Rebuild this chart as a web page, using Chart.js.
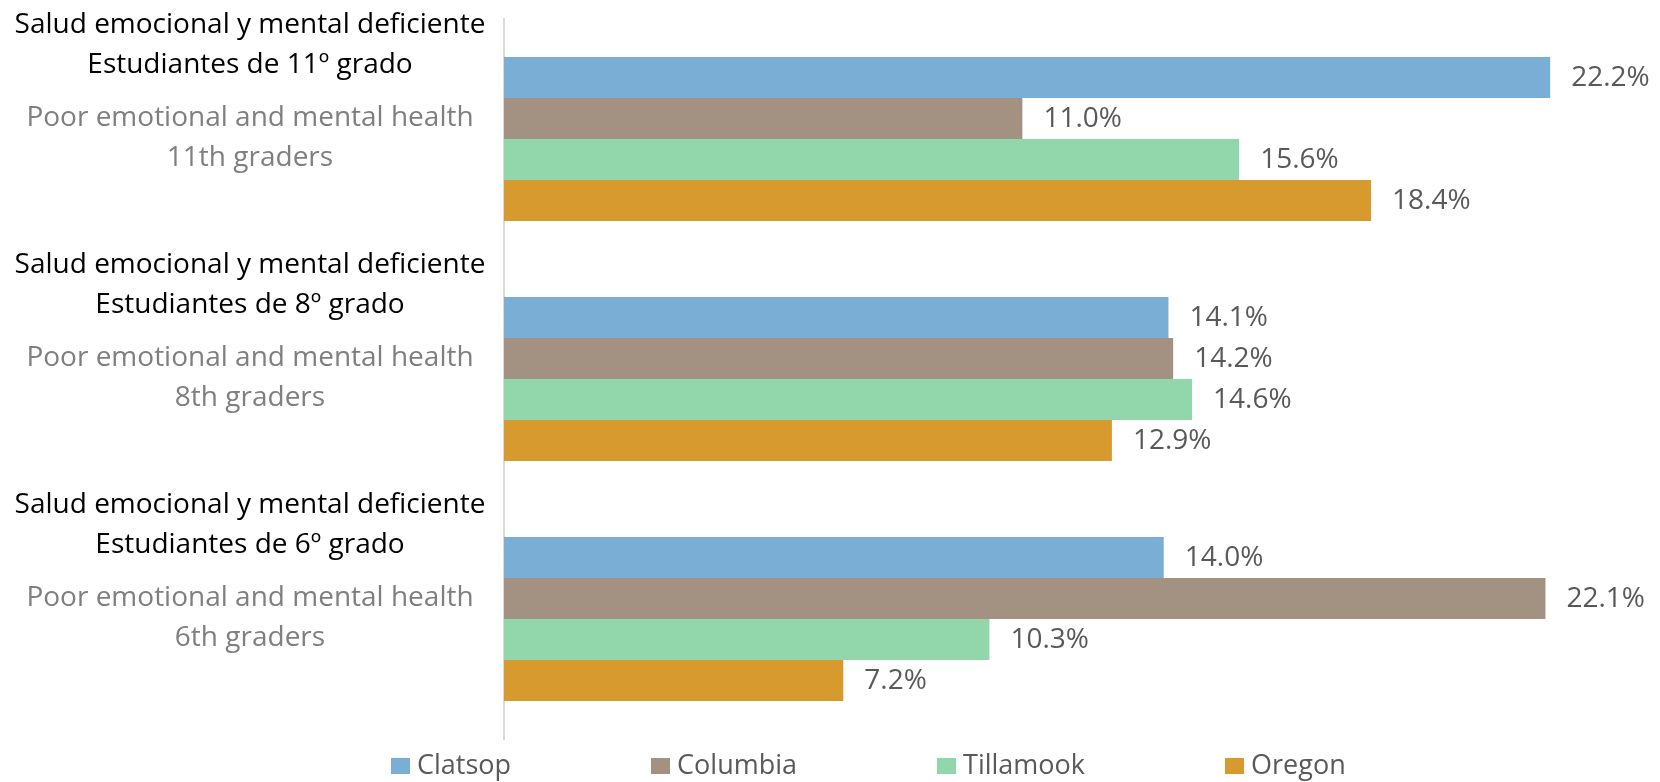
<!DOCTYPE html>
<html>
<head>
<meta charset="utf-8">
<title>Salud emocional y mental deficiente</title>
<script src="https://cdn.jsdelivr.net/npm/chart.js@4/dist/chart.umd.min.js"></script>
<style>
  html, body { margin: 0; padding: 0; background: #ffffff; }
  #wrap { position: relative; width: 1660px; height: 782px; overflow: hidden; }
  #legend {
    position: absolute; left: 391px; top: 750px;
    display: flex; gap: 140px;
    font-family: "Open Sans", sans-serif; font-size: 27px; line-height: 27px;
    color: #595959;
  }
  #legend .item { display: flex; align-items: center; white-space: nowrap; }
  #legend .box { width: 19px; height: 16px; margin-right: 7px; position: relative; top: 2px; }
</style>
</head>
<body>
<div id="wrap">
  <canvas id="chart" width="1660" height="782"></canvas>
  <div id="legend"></div>
</div>
<script>
// each category label: two Spanish lines, then two English lines
const categories = [
  ["Salud emocional y mental deficiente", "Estudiantes de 11º grado", "Poor emotional and mental health", "11th graders"],
  ["Salud emocional y mental deficiente", "Estudiantes de 8º grado", "Poor emotional and mental health", "8th graders"],
  ["Salud emocional y mental deficiente", "Estudiantes de 6º grado", "Poor emotional and mental health", "6th graders"]
];
const seriesNames = ["Clatsop", "Columbia", "Tillamook", "Oregon"];
const clatsop = [22.2, 14.1, 14.0];
const columbia = [11.0, 14.2, 22.1];
const tillamook = [15.6, 14.6, 10.3];
const oregon = [18.4, 12.9, 7.2];
const colors = ["#7aaed4", "#a39281", "#92d6ac", "#d69a2e"];

// draws the two-colour category text to the left of the axis
const categoryLabels = {
  id: "categoryLabels",
  afterDraw(chart) {
    const y = chart.scales.y;
    const ctx = chart.ctx;
    const offsets = [-106, -66, -13, 27];
    const cx = (y.left + y.right) / 2 - 2;
    ctx.save();
    ctx.font = '28px "Open Sans"';
    ctx.textAlign = "center";
    ctx.textBaseline = "alphabetic";
    chart.data.labels.forEach((lines, i) => {
      const mid = y.getPixelForValue(i);
      lines.forEach((text, j) => {
        ctx.fillStyle = j < 2 ? "#000000" : "#7f7f7f";
        ctx.fillText(text, cx, mid + offsets[j]);
      });
    });
    ctx.restore();
  }
};

// percentage next to the end of every bar
const valueLabels = {
  id: "valueLabels",
  afterDatasetsDraw(chart) {
    const ctx = chart.ctx;
    ctx.save();
    ctx.font = '28px "Open Sans"';
    ctx.fillStyle = "#595959";
    ctx.textAlign = "left";
    ctx.textBaseline = "middle";
    chart.data.datasets.forEach((ds, di) => {
      chart.getDatasetMeta(di).data.forEach((bar, i) => {
        ctx.fillText(ds.data[i].toFixed(1) + "%", bar.x + 21, bar.y + 1);
      });
    });
    ctx.restore();
  }
};

const seriesData = [clatsop, columbia, tillamook, oregon];

const chart = new Chart(document.getElementById("chart").getContext("2d"), {
  type: "bar",
  data: {
    labels: categories,
    datasets: seriesNames.map((name, i) => ({
      label: name,
      data: seriesData[i],
      backgroundColor: colors[i],
      borderWidth: 0,
      categoryPercentage: 0.683,
      barPercentage: 1
    }))
  },
  options: {
    indexAxis: "y",
    responsive: false,
    animation: false,
    layout: { padding: { top: 19, right: 25, bottom: 43, left: 0 } },
    plugins: {
      legend: { display: false },
      tooltip: { enabled: false }
    },
    scales: {
      x: { display: false, min: 0, max: 24 },
      y: {
        grid: { display: false },
        border: { display: true, color: "#d9d9d9", width: 2 },
        ticks: { display: false },
        afterFit(scale) { scale.width = 504; }
      }
    }
  },
  plugins: [categoryLabels, valueLabels]
});

// legend row under the plot
const legend = document.getElementById("legend");
chart.data.datasets.forEach(ds => {
  const item = document.createElement("div");
  item.className = "item";
  const box = document.createElement("span");
  box.className = "box";
  box.style.background = ds.backgroundColor;
  const text = document.createElement("span");
  text.textContent = ds.label;
  item.appendChild(box);
  item.appendChild(text);
  legend.appendChild(item);
});
</script>
</body>
</html>
